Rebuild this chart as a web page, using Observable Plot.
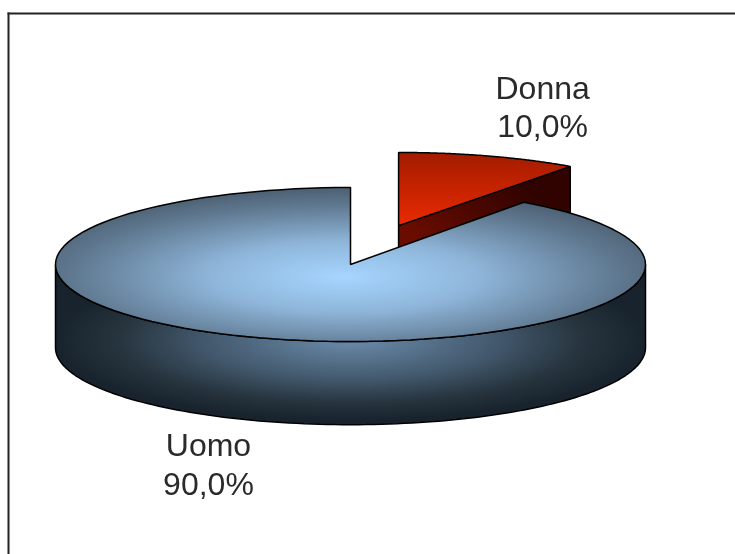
<!DOCTYPE html>
<html><head><meta charset="utf-8">
<script src="https://cdn.jsdelivr.net/npm/d3@7"></script>
<script src="https://cdn.jsdelivr.net/npm/@observablehq/plot@0.6"></script>
<style>html,body{margin:0;padding:0;background:#fff}svg{display:block}</style>
</head><body><div id="chart"></div>
<script>
const categories = ["Donna", "Uomo"];
const shares = [10, 90];
const percentLabels = ["10,0%", "90,0%"];

// Chart-space: pie radius = 1 on both axes, the y axis carrying the tilt.
const depth = 1.08, labelRadius = 1.58;
const explode = {Donna: [0.163, 0.505], Uomo: [0, 0]};
const squash = {Donna: [0.99, 0.95], Uomo: [1, 1]};
const total = d3.sum(shares);
const slices = [];
categories.reduce((a0, name, i) => {
  const a1 = a0 + shares[i] / total * 2 * Math.PI;
  slices.push({name, a0, a1, off: explode[name], k: squash[name], label: name + "\n" + percentLabels[i]});
  return a1;
}, 0);
const rim = (s, a, dz = 0) => ({x: s.off[0] + s.k[0] * Math.sin(a), y: s.off[1] + s.k[1] * Math.cos(a) - dz});
const arc = (s, a0, a1, dz = 0) => d3.range(121).map(i => rim(s, a0 + (a1 - a0) * i / 120, dz));
const apex = (s, dz = 0) => ({x: s.off[0], y: s.off[1] - dz});
const [donna, uomo] = slices;

const top_ = s => [apex(s), ...arc(s, s.a0, s.a1)];
const donnaWall = [apex(donna), rim(donna, donna.a1), rim(donna, donna.a1, depth), apex(donna, depth)];
const uomoSide = [...arc(uomo, Math.PI / 2, 3 * Math.PI / 2), ...arc(uomo, 3 * Math.PI / 2, Math.PI / 2, depth)];

const labels = slices.map(s => {
  const mid = (s.a0 + s.a1) / 2, c = Math.cos(mid);
  return {x: s.off[0] + labelRadius * Math.sin(mid),
          y: s.off[1] + labelRadius * c - (c < 0 ? depth : 0),
          text: s.label};
});

const defs = () => d3.create("svg:defs").html(`
  <radialGradient id="uomoTop" cx="0.49" cy="0.58" r="0.56">
    <stop offset="0" stop-color="#a6d5ff"/><stop offset="0.4" stop-color="#8fb6da"/>
    <stop offset="0.78" stop-color="#647f98"/><stop offset="1" stop-color="#4f6376"/>
  </radialGradient>
  <radialGradient id="uomoSide" cx="0.5" cy="0.47" r="0.5">
    <stop offset="0" stop-color="#6b8cab"/><stop offset="0.5" stop-color="#42586c"/>
    <stop offset="0.78" stop-color="#27353f"/><stop offset="1" stop-color="#18232d"/>
  </radialGradient>
  <linearGradient id="donnaTop" x1="0" y1="0" x2="0" y2="1">
    <stop offset="0" stop-color="#a21c00"/><stop offset="1" stop-color="#ea2a00"/>
  </linearGradient>
  <linearGradient id="donnaWall" x1="0" y1="1" x2="1" y2="0">
    <stop offset="0.3" stop-color="#6a0c00"/><stop offset="0.8" stop-color="#300300"/>
  </linearGradient>`).node();

const face = (pts, fill) => Plot.line(pts, {x: "x", y: "y", curve: "linear-closed", fill,
  stroke: "#000", strokeWidth: 1.5, strokeLinejoin: "miter"});
const label = (d, dx, dy) => Plot.text([d], {x: "x", y: "y", text: "text", dx, dy, fontSize: 32, lineHeight: 1.2,
  fontFamily: "'Liberation Sans', Arial, sans-serif", fill: "#2a2a2a"});

const plot = Plot.plot({
  width: 735, height: 554, marginTop: 13, marginLeft: 8, marginRight: 0, marginBottom: 0,
  style: {background: "#fff", filter: "blur(0.7px)"},
  x: {domain: [-350 / 295, 385 / 295], range: [0, 735], axis: null},
  y: {domain: [264 / 77, -290 / 77], range: [0, 554], axis: null},
  marks: [
    defs,
    Plot.frame({anchor: "left", stroke: "#222", strokeWidth: 2}),
    Plot.frame({anchor: "top", stroke: "#222", strokeWidth: 2}),
    face(donnaWall, "url(#donnaWall)"),
    face(top_(donna), "url(#donnaTop)"),
    face(uomoSide, "url(#uomoSide)"),
    face(top_(uomo), "url(#uomoTop)"),
    label(labels[0], 0, -4),
    label(labels[1], 2, 0)
  ]
});
document.getElementById("chart").append(plot);
</script></body></html>
